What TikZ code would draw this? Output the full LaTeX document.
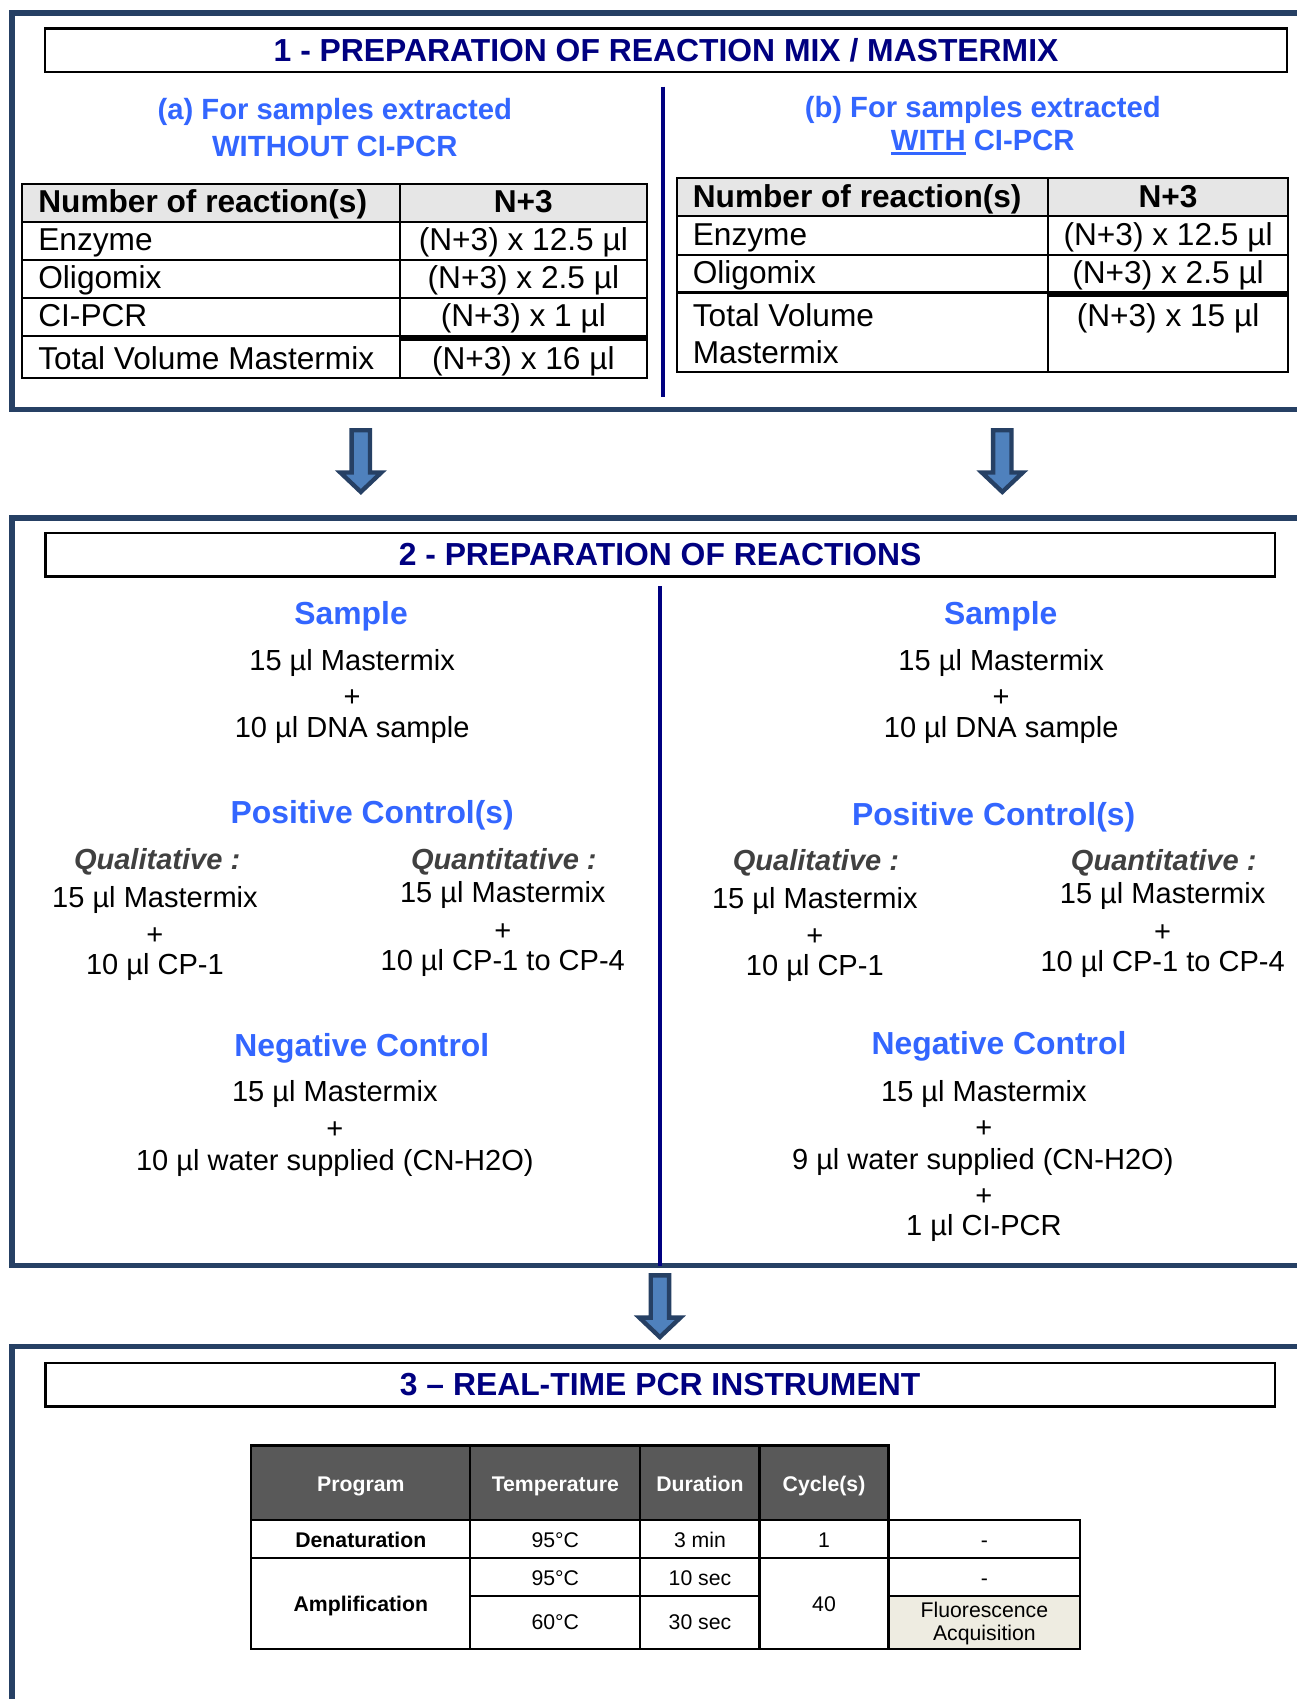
\documentclass[tikz,border=0pt]{standalone}
\usepackage{fontspec}
\setmainfont{Liberation Sans}
\usepackage{tikz}
\usepackage{xcolor}
\definecolor{framecol}{RGB}{38,64,100}
\definecolor{navytext}{RGB}{0,0,128}
\definecolor{bluehead}{RGB}{51,102,255}
\definecolor{arrowfill}{RGB}{79,129,189}
\definecolor{headgray}{RGB}{230,230,230}
\definecolor{pcrgray}{RGB}{89,89,89}
\definecolor{acqfill}{RGB}{238,236,225}
\definecolor{qualgray}{RGB}{64,64,64}
\newcommand{\thickunder}[1]{\setbox0=\hbox{#1}\rlap{\rule[-2.4pt]{\wd0}{1.4pt}}\box0\relax}
\tikzset{
    panel-frame/.style = {draw=framecol, line width=2.4pt},
    title-box/.style = {draw=black, line width=1.1pt, minimum height=20.1pt, inner sep=0pt, text=navytext, font=\fontsize{14.7}{17}\selectfont\bfseries},
    divider/.style = {draw=navytext, line width=2pt},
    txt/.style = {inner sep=0pt, text height=.86em, text depth=0pt},
    sub-head/.style = {txt, text=bluehead, font=\fontsize{13.5}{16}\selectfont\bfseries},
    blue-head/.style = {txt, text=bluehead, font=\fontsize{14.7}{17}\selectfont\bfseries},
    body-text/.style = {txt, font=\fontsize{13.4}{16}\selectfont},
    kind-text/.style = {txt, text=qualgray, font=\fontsize{13.4}{16}\selectfont\bfseries\itshape},
    grid-line/.style = {draw=black, line width=1pt},
    cell-text/.style = {txt, text height=.92em, font=\fontsize{14.6}{17}\selectfont},
    cell-bold/.style = {txt, text height=.92em, font=\fontsize{14.6}{17}\selectfont\bfseries},
    pcr-text/.style = {txt, text height=.72em, font=\fontsize{9.8}{12}\selectfont},
    pcr-bold/.style = {txt, text height=.72em, font=\fontsize{9.8}{12}\selectfont\bfseries},
    down-arrow/.pic = {\draw[draw=framecol, fill=arrowfill, line width=2pt] (-8.5,-29) -- (8.5,-29) -- (8.5,10) -- (19,10) -- (0,28) -- (-19,10) -- (-8.5,10) -- cycle;},
}

\begin{document}
\begin{tikzpicture}[x=0.5pt, y=-0.5pt]
\useasboundingbox[fill=white] (0,0) rectangle (1197,1568);

% panel frames
\draw[panel-frame] (1197,12) -- (11,12) -- (11,378) -- (1197,378);
\draw[panel-frame] (1197,478) -- (11,478) -- (11,1168) -- (1197,1168);
\draw[panel-frame] (1197,1243) -- (11,1243) -- (11,1568);

% 1 - mastermix
\node[title-box, minimum width=573.3pt] (title1) at (614.7,46.5) {1 - PREPARATION OF REACTION MIX / MASTERMIX};
\draw[divider] (612,80) -- (612,366);

\node[sub-head] (head-a1) at (309,102) {(a) For samples extracted};
\node[sub-head] (head-a2) at (309,136) {WITHOUT CI-PCR};
\node[sub-head] (head-b1) at (907,100) {(b) For samples extracted};
\node[sub-head] (head-b2) at (907,130) {\thickunder{WITH} CI-PCR};

% table (a)
\fill[headgray] (20,170) rectangle (597,205);
\draw[grid-line] (20,170) rectangle (597,349);
\foreach \y in {205,240,275,310} \draw[grid-line] (20,\y) -- (597,\y);
\draw[grid-line] (369,170) -- (369,349);
\draw[line width=2pt] (369,313) -- (597,313);
\node[cell-bold, anchor=west] (a-num) at (35,187) {Number of reaction(s)};
\node[cell-bold] (a-n3) at (483,187) {N+3};
\node[cell-text, anchor=west] (a-enz) at (35,222) {Enzyme};
\node[cell-text] (a-enz-v) at (483,222) {(N+3) x 12.5 µl};
\node[cell-text, anchor=west] (a-oli) at (35,257) {Oligomix};
\node[cell-text] (a-oli-v) at (483,257) {(N+3) x 2.5 µl};
\node[cell-text, anchor=west] (a-ci) at (35,292) {CI-PCR};
\node[cell-text] (a-ci-v) at (483,292) {(N+3) x 1 µl};
\node[cell-text, anchor=west] (a-tot) at (35,332) {Total Volume Mastermix};
\node[cell-text] (a-tot-v) at (483,332) {(N+3) x 16 µl};

% table (b)
\fill[headgray] (625,164) rectangle (1189,199);
\draw[grid-line] (625,164) rectangle (1189,343);
\foreach \y in {199,235,270} \draw[grid-line] (625,\y) -- (1189,\y);
\draw[grid-line] (967,164) -- (967,343);
\draw[line width=2pt] (967,272) -- (1189,272);
\node[cell-bold, anchor=west] (b-num) at (639,182) {Number of reaction(s)};
\node[cell-bold] (b-n3) at (1078,182) {N+3};
\node[cell-text, anchor=west] (b-enz) at (639,217) {Enzyme};
\node[cell-text] (b-enz-v) at (1078,217) {(N+3) x 12.5 µl};
\node[cell-text, anchor=west] (b-oli) at (639,252) {Oligomix};
\node[cell-text] (b-oli-v) at (1078,252) {(N+3) x 2.5 µl};
\node[cell-text, anchor=west] (b-tot1) at (639,292) {Total Volume};
\node[cell-text, anchor=west] (b-tot2) at (639,326) {Mastermix};
\node[cell-text] (b-tot-v) at (1078,292) {(N+3) x 15 µl};

% arrows
\pic (arr-a) at (333,426) {down-arrow};
\pic (arr-b) at (925,426) {down-arrow};

% 2 - reactions
\node[title-box, minimum width=567.2pt] (title2) at (609.2,511.8) {2 - PREPARATION OF REACTIONS};
\draw[divider] (609,541) -- (609,1168);

% left column
\node[blue-head] (l-smp) at (324,568) {Sample};
\node[body-text] (l-smp1) at (325,610) {15 µl Mastermix};
\node[body-text] (l-smp2) at (325,643) {+};
\node[body-text] (l-smp3) at (325,672) {10 µl DNA sample};
\node[blue-head] (l-pos) at (343.5,751) {Positive Control(s)};
\node[kind-text] (l-qual) at (145,794) {Qualitative :};
\node[body-text] (l-qual1) at (143,829) {15 µl Mastermix};
\node[body-text] (l-qual2) at (143,863) {+};
\node[body-text] (l-qual3) at (143,891) {10 µl CP-1};
\node[kind-text] (l-quan) at (465,794) {Quantitative :};
\node[body-text] (l-quan1) at (464,824) {15 µl Mastermix};
\node[body-text] (l-quan2) at (464,859) {+};
\node[body-text] (l-quan3) at (464,887) {10 µl CP-1 to CP-4};
\node[blue-head] (l-neg) at (334,966) {Negative Control};
\node[body-text] (l-neg1) at (309,1008) {15 µl Mastermix};
\node[body-text] (l-neg2) at (309,1042) {+};
\node[body-text] (l-neg3) at (309,1072) {10 µl water supplied (CN-H2O)};

% right column
\node[blue-head] (r-smp) at (923.5,568) {Sample};
\node[body-text] (r-smp1) at (924,610) {15 µl Mastermix};
\node[body-text] (r-smp2) at (924,643) {+};
\node[body-text] (r-smp3) at (924,672) {10 µl DNA sample};
\node[blue-head] (r-pos) at (917,753) {Positive Control(s)};
\node[kind-text] (r-qual) at (753,795) {Qualitative :};
\node[body-text] (r-qual1) at (752,830) {15 µl Mastermix};
\node[body-text] (r-qual2) at (752,864) {+};
\node[body-text] (r-qual3) at (752,892) {10 µl CP-1};
\node[kind-text] (r-quan) at (1074,795) {Quantitative :};
\node[body-text] (r-quan1) at (1073,825) {15 µl Mastermix};
\node[body-text] (r-quan2) at (1073,860) {+};
\node[body-text] (r-quan3) at (1073,888) {10 µl CP-1 to CP-4};
\node[blue-head] (r-neg) at (922,965) {Negative Control};
\node[body-text] (r-neg1) at (908,1008) {15 µl Mastermix};
\node[body-text] (r-neg2) at (908,1041) {+};
\node[body-text] (r-neg3) at (907,1071) {9 µl water supplied (CN-H2O)};
\node[body-text] (r-neg4) at (908,1104) {+};
\node[body-text] (r-neg5) at (908,1132) {1 µl CI-PCR};

\pic (arr-c) at (609,1206) {down-arrow};

% 3 - real-time pcr
\node[title-box, minimum width=567.2pt] (title3) at (609.2,1278) {3 – REAL-TIME PCR INSTRUMENT};

\fill[pcrgray] (232,1334) rectangle (820,1403);
\fill[acqfill] (820,1473) rectangle (997,1522);
\draw[grid-line] (232,1334) -- (820,1334) -- (820,1403) -- (997,1403) -- (997,1522) -- (232,1522) -- cycle;
\foreach \x in {434,591,701,820} \draw[grid-line] (\x,1334) -- (\x,1522);
\draw[grid-line] (232,1403) -- (997,1403);
\draw[grid-line] (232,1438) -- (997,1438);
\draw[grid-line] (434,1473) -- (701,1473);
\draw[grid-line] (820,1473) -- (997,1473);

\node[pcr-bold, text=white] (h-prog) at (333,1369) {Program};
\node[pcr-bold, text=white] (h-temp) at (512.5,1369) {Temperature};
\node[pcr-bold, text=white] (h-dur) at (646,1369) {Duration};
\node[pcr-bold, text=white] (h-cyc) at (760.5,1369) {Cycle(s)};

\node[pcr-bold] (den) at (333,1421) {Denaturation};
\node[pcr-text] (den-t) at (512.5,1421) {95°C};
\node[pcr-text] (den-d) at (646,1421) {3 min};
\node[pcr-text] (den-c) at (760.5,1421) {1};
\node[pcr-text] (den-f) at (908.5,1421) {-};

\node[pcr-bold] (amp) at (333,1480) {Amplification};
\node[pcr-text] (amp-t1) at (512.5,1456) {95°C};
\node[pcr-text] (amp-d1) at (646,1456) {10 sec};
\node[pcr-text] (amp-f1) at (908.5,1456) {-};
\node[pcr-text] (amp-t2) at (512.5,1497) {60°C};
\node[pcr-text] (amp-d2) at (646,1497) {30 sec};
\node[pcr-text] (amp-c) at (760.5,1480) {40};
\node[pcr-text] (amp-f2) at (908.5,1486) {Fluorescence};
\node[pcr-text] (amp-f3) at (908.5,1507) {Acquisition};
\end{tikzpicture}
\end{document}
